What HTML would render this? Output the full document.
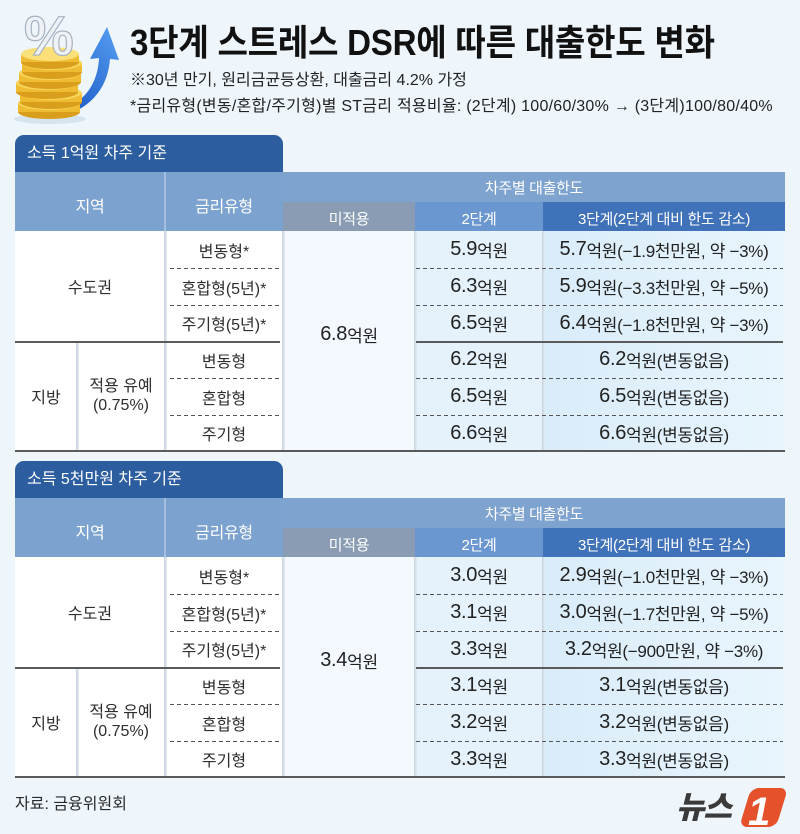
<!DOCTYPE html>
<html><head><meta charset="utf-8">
<style>
*{margin:0;padding:0;box-sizing:border-box}
html,body{width:800px;height:834px;overflow:hidden}
body{background:#eef6fc;font-family:"Liberation Sans","Noto Sans CJK KR",sans-serif;color:#2a2a2a;position:relative}
.a{position:absolute}
.c{position:absolute;display:flex;align-items:center;justify-content:center;text-align:center;white-space:nowrap}
.tbl{position:absolute;left:0;width:800px;height:320px}
.tab{left:15px;top:0;width:268px;height:37px;background:#2b5d9f;border-radius:9px 9px 0 0;color:#fff;font-size:16px;line-height:37px;padding-left:12px;white-space:nowrap}
.hd{color:#fff;font-size:15px;letter-spacing:-0.3px}
.lb{font-size:16px;color:#2e2e2e}
.v{font-size:20px;color:#222;letter-spacing:-0.3px}
.v small{font-size:17px}
.dash{height:1px;background:repeating-linear-gradient(to right,#555 0 4px,transparent 4px 7px)}
.solid{height:2px;background:#5a5a5a}
.vs{width:3px;background:linear-gradient(to right,#c7d2de,#e4ebf2)}
.title{left:130px;top:25px;font-size:36px;line-height:36px;font-weight:bold;color:#111;white-space:nowrap;transform:scaleX(0.92);transform-origin:0 0;letter-spacing:-0.3px}
.sub{left:130px;font-size:16px;line-height:20px;color:#222;white-space:nowrap}
</style></head><body>

<!-- icon -->
<svg class="a" style="left:0;top:0" width="130" height="130" viewBox="0 0 130 130">
  <defs>
    <linearGradient id="ar" x1="0" y1="1" x2="0.6" y2="0">
      <stop offset="0" stop-color="#1f5fc8"/><stop offset="1" stop-color="#4f95ec"/>
    </linearGradient>
  </defs>
  <ellipse cx="50" cy="119" rx="36" ry="5" fill="#d6e4f0"/>
  <path d="M74 104 C90 94 98 78 99 58 L90 59 L107 27 L119 60 L110 59 C108 84 96 100 78 110 Z" fill="url(#ar)"/>
  <g>
    <ellipse cx="49" cy="112" rx="31" ry="7" fill="#d99f1c"/><rect x="18" y="103" width="62" height="9" fill="#efbb30"/><ellipse cx="49" cy="103" rx="31" ry="7" fill="#f7d45a"/>
    <ellipse cx="51" cy="102" rx="31" ry="7" fill="#d99f1c"/><rect x="20" y="93" width="62" height="9" fill="#efbb30"/><ellipse cx="51" cy="93" rx="31" ry="7" fill="#f7d45a"/>
    <ellipse cx="47" cy="92" rx="31" ry="7" fill="#d99f1c"/><rect x="16" y="83" width="62" height="9" fill="#efbb30"/><ellipse cx="47" cy="83" rx="31" ry="7" fill="#f7d45a"/>
    <ellipse cx="50" cy="82" rx="31" ry="7" fill="#d99f1c"/><rect x="19" y="73" width="62" height="9" fill="#efbb30"/><ellipse cx="50" cy="73" rx="31" ry="7" fill="#f7d45a"/>
    <ellipse cx="52" cy="72" rx="30" ry="7" fill="#d99f1c"/><rect x="22" y="63" width="60" height="9" fill="#efbb30"/><ellipse cx="52" cy="63" rx="30" ry="7" fill="#f7d45a"/>
    <ellipse cx="50" cy="62" rx="29" ry="7" fill="#d99f1c"/><rect x="21" y="54" width="58" height="8" fill="#efbb30"/><ellipse cx="50" cy="54" rx="29" ry="7" fill="#fbe07a"/>
  </g>
  <text x="24" y="55" font-family="Liberation Sans" font-weight="bold" font-size="56" fill="#eef1f5" stroke="#a9b2c0" stroke-width="1.2">%</text>
</svg>

<div class="a title">3단계 스트레스 DSR에 따른 대출한도 변화</div>
<div class="a sub" style="top:71px">※30년 만기, 원리금균등상환, 대출금리 4.2% 가정</div>
<div class="a sub" style="top:97px;letter-spacing:0.25px">*금리유형(변동/혼합/주기형)별 ST금리 적용비율: (2단계) 100/60/30% → (3단계)100/80/40%</div>

<!-- TABLE 1 -->
<div class="tbl" style="top:135px">
  <div class="a tab">소득 1억원 차주 기준</div>
  <div class="a" style="left:15px;top:37px;width:268px;height:59px;background:#7ca2d0"></div>
  <div class="a" style="left:164px;top:37px;width:2px;height:59px;background:#a3bedf"></div>
  <div class="c hd" style="left:15px;top:40px;width:150px;height:59px;font-size:16px">지역</div>
  <div class="c hd" style="left:165px;top:40px;width:118px;height:59px;font-size:16px">금리유형</div>
  <div class="a" style="left:283px;top:37px;width:502px;height:30px;background:#7fa3cf"></div>
  <div class="c hd" style="left:283px;top:37px;width:502px;height:31px">차주별 대출한도</div>
  <div class="c hd" style="left:283px;top:67px;width:132px;height:29px;background:#8a9cb3;padding-top:3px">미적용</div>
  <div class="c hd" style="left:415px;top:67px;width:128px;height:29px;background:#6a97cf;padding-top:3px">2단계</div>
  <div class="c hd" style="left:543px;top:67px;width:242px;height:29px;background:#3f72b8;padding-top:3px">3단계(2단계 대비 한도 감소)</div>

  <div class="a" style="left:15px;top:96px;width:268px;height:220px;background:#fff"></div>
  <div class="a" style="left:283px;top:96px;width:132px;height:220px;background:#f3f9fe"></div>
  <div class="a" style="left:415px;top:96px;width:128px;height:220px;background:#e5f2fb"></div>
  <div class="a" style="left:543px;top:96px;width:242px;height:220px;background:linear-gradient(to right,#d9ecf9,#e9f5fd)"></div>

  <div class="a vs" style="left:164px;top:96px;height:220px"></div>
  <div class="a vs" style="left:76px;top:206px;height:110px"></div>
  <div class="a vs" style="left:282px;top:96px;height:220px"></div>
  <div class="a vs" style="left:414px;top:96px;height:220px"></div>
  <div class="a vs" style="left:542px;top:96px;height:220px"></div>

  <div class="a dash" style="left:170px;top:133px;width:110px"></div>
  <div class="a dash" style="left:170px;top:170px;width:110px"></div>
  <div class="a dash" style="left:170px;top:243px;width:110px"></div>
  <div class="a dash" style="left:170px;top:280px;width:110px"></div>
  <div class="a dash" style="left:416px;top:133px;width:367px"></div>
  <div class="a dash" style="left:416px;top:170px;width:367px"></div>
  <div class="a dash" style="left:416px;top:243px;width:367px"></div>
  <div class="a dash" style="left:416px;top:280px;width:367px"></div>
  <div class="a solid" style="left:15px;top:206px;width:265px"></div>
  <div class="a solid" style="left:416px;top:206px;width:367px"></div>
  <div class="a solid" style="left:15px;top:315px;width:770px"></div>

  <div class="c lb" style="left:15px;top:96px;width:150px;height:110px">수도권</div>
  <div class="c lb" style="left:15px;top:206px;width:62px;height:110px">지방</div>
  <div class="c lb" style="left:77px;top:206px;width:88px;height:110px;line-height:19px">적용 유예<br>(0.75%)</div>

  <div class="c lb" style="left:165px;top:96px;width:118px;height:37px">변동형*</div>
  <div class="c lb" style="left:165px;top:133px;width:118px;height:37px">혼합형(5년)*</div>
  <div class="c lb" style="left:165px;top:170px;width:118px;height:36px">주기형(5년)*</div>
  <div class="c lb" style="left:165px;top:206px;width:118px;height:37px">변동형</div>
  <div class="c lb" style="left:165px;top:243px;width:118px;height:37px">혼합형</div>
  <div class="c lb" style="left:165px;top:280px;width:118px;height:36px">주기형</div>

  <div class="c v" style="left:283px;top:96px;width:132px;height:206px">6.8<small>억원</small></div>

  <div class="c v" style="left:415px;top:96px;width:128px;height:37px">5.9<small>억원</small></div>
  <div class="c v" style="left:415px;top:133px;width:128px;height:37px">6.3<small>억원</small></div>
  <div class="c v" style="left:415px;top:170px;width:128px;height:36px">6.5<small>억원</small></div>
  <div class="c v" style="left:415px;top:206px;width:128px;height:37px">6.2<small>억원</small></div>
  <div class="c v" style="left:415px;top:243px;width:128px;height:37px">6.5<small>억원</small></div>
  <div class="c v" style="left:415px;top:280px;width:128px;height:36px">6.6<small>억원</small></div>

  <div class="c v" style="left:543px;top:96px;width:242px;height:37px">5.7<small>억원(−1.9천만원, 약 −3%)</small></div>
  <div class="c v" style="left:543px;top:133px;width:242px;height:37px">5.9<small>억원(−3.3천만원, 약 −5%)</small></div>
  <div class="c v" style="left:543px;top:170px;width:242px;height:36px">6.4<small>억원(−1.8천만원, 약 −3%)</small></div>
  <div class="c v" style="left:543px;top:206px;width:242px;height:37px">6.2<small>억원(변동없음)</small></div>
  <div class="c v" style="left:543px;top:243px;width:242px;height:37px">6.5<small>억원(변동없음)</small></div>
  <div class="c v" style="left:543px;top:280px;width:242px;height:36px">6.6<small>억원(변동없음)</small></div>
</div>

<!-- TABLE 2 -->
<div class="tbl" style="top:461px">
  <div class="a tab">소득 5천만원 차주 기준</div>
  <div class="a" style="left:15px;top:37px;width:268px;height:59px;background:#7ca2d0"></div>
  <div class="a" style="left:164px;top:37px;width:2px;height:59px;background:#a3bedf"></div>
  <div class="c hd" style="left:15px;top:40px;width:150px;height:59px;font-size:16px">지역</div>
  <div class="c hd" style="left:165px;top:40px;width:118px;height:59px;font-size:16px">금리유형</div>
  <div class="a" style="left:283px;top:37px;width:502px;height:30px;background:#7fa3cf"></div>
  <div class="c hd" style="left:283px;top:37px;width:502px;height:31px">차주별 대출한도</div>
  <div class="c hd" style="left:283px;top:67px;width:132px;height:29px;background:#8a9cb3;padding-top:3px">미적용</div>
  <div class="c hd" style="left:415px;top:67px;width:128px;height:29px;background:#6a97cf;padding-top:3px">2단계</div>
  <div class="c hd" style="left:543px;top:67px;width:242px;height:29px;background:#3f72b8;padding-top:3px">3단계(2단계 대비 한도 감소)</div>

  <div class="a" style="left:15px;top:96px;width:268px;height:220px;background:#fff"></div>
  <div class="a" style="left:283px;top:96px;width:132px;height:220px;background:#f3f9fe"></div>
  <div class="a" style="left:415px;top:96px;width:128px;height:220px;background:#e5f2fb"></div>
  <div class="a" style="left:543px;top:96px;width:242px;height:220px;background:linear-gradient(to right,#d9ecf9,#e9f5fd)"></div>

  <div class="a vs" style="left:164px;top:96px;height:220px"></div>
  <div class="a vs" style="left:76px;top:206px;height:110px"></div>
  <div class="a vs" style="left:282px;top:96px;height:220px"></div>
  <div class="a vs" style="left:414px;top:96px;height:220px"></div>
  <div class="a vs" style="left:542px;top:96px;height:220px"></div>

  <div class="a dash" style="left:170px;top:133px;width:110px"></div>
  <div class="a dash" style="left:170px;top:170px;width:110px"></div>
  <div class="a dash" style="left:170px;top:243px;width:110px"></div>
  <div class="a dash" style="left:170px;top:280px;width:110px"></div>
  <div class="a dash" style="left:416px;top:133px;width:367px"></div>
  <div class="a dash" style="left:416px;top:170px;width:367px"></div>
  <div class="a dash" style="left:416px;top:243px;width:367px"></div>
  <div class="a dash" style="left:416px;top:280px;width:367px"></div>
  <div class="a solid" style="left:15px;top:206px;width:265px"></div>
  <div class="a solid" style="left:416px;top:206px;width:367px"></div>
  <div class="a solid" style="left:15px;top:315px;width:770px"></div>

  <div class="c lb" style="left:15px;top:96px;width:150px;height:110px">수도권</div>
  <div class="c lb" style="left:15px;top:206px;width:62px;height:110px">지방</div>
  <div class="c lb" style="left:77px;top:206px;width:88px;height:110px;line-height:19px">적용 유예<br>(0.75%)</div>

  <div class="c lb" style="left:165px;top:96px;width:118px;height:37px">변동형*</div>
  <div class="c lb" style="left:165px;top:133px;width:118px;height:37px">혼합형(5년)*</div>
  <div class="c lb" style="left:165px;top:170px;width:118px;height:36px">주기형(5년)*</div>
  <div class="c lb" style="left:165px;top:206px;width:118px;height:37px">변동형</div>
  <div class="c lb" style="left:165px;top:243px;width:118px;height:37px">혼합형</div>
  <div class="c lb" style="left:165px;top:280px;width:118px;height:36px">주기형</div>

  <div class="c v" style="left:283px;top:96px;width:132px;height:206px">3.4<small>억원</small></div>

  <div class="c v" style="left:415px;top:96px;width:128px;height:37px">3.0<small>억원</small></div>
  <div class="c v" style="left:415px;top:133px;width:128px;height:37px">3.1<small>억원</small></div>
  <div class="c v" style="left:415px;top:170px;width:128px;height:36px">3.3<small>억원</small></div>
  <div class="c v" style="left:415px;top:206px;width:128px;height:37px">3.1<small>억원</small></div>
  <div class="c v" style="left:415px;top:243px;width:128px;height:37px">3.2<small>억원</small></div>
  <div class="c v" style="left:415px;top:280px;width:128px;height:36px">3.3<small>억원</small></div>

  <div class="c v" style="left:543px;top:96px;width:242px;height:37px">2.9<small>억원(−1.0천만원, 약 −3%)</small></div>
  <div class="c v" style="left:543px;top:133px;width:242px;height:37px">3.0<small>억원(−1.7천만원, 약 −5%)</small></div>
  <div class="c v" style="left:543px;top:170px;width:242px;height:36px">3.2<small>억원(−900만원, 약 −3%)</small></div>
  <div class="c v" style="left:543px;top:206px;width:242px;height:37px">3.1<small>억원(변동없음)</small></div>
  <div class="c v" style="left:543px;top:243px;width:242px;height:37px">3.2<small>억원(변동없음)</small></div>
  <div class="c v" style="left:543px;top:280px;width:242px;height:36px">3.3<small>억원(변동없음)</small></div>
</div>

<div class="a" style="left:15px;top:795px;font-size:16px;line-height:20px;color:#2a2a2a;white-space:nowrap">자료: 금융위원회</div>

<!-- logo -->
<div class="a" style="left:676px;top:790px;font-size:31px;line-height:36px;font-weight:900;font-style:italic;color:#3a3a3a;white-space:nowrap;letter-spacing:-1px">뉴스</div>
<svg class="a" style="left:736px;top:785px" width="54" height="46" viewBox="0 0 54 46">
  <g transform="skewX(-17)">
    <rect x="16" y="3" width="37" height="39" rx="8" fill="#e4512a"/>
  </g>
  <text x="12" y="40" font-family="Liberation Sans" font-weight="bold" font-style="italic" font-size="40" fill="#fff">1</text>
</svg>

</body></html>
